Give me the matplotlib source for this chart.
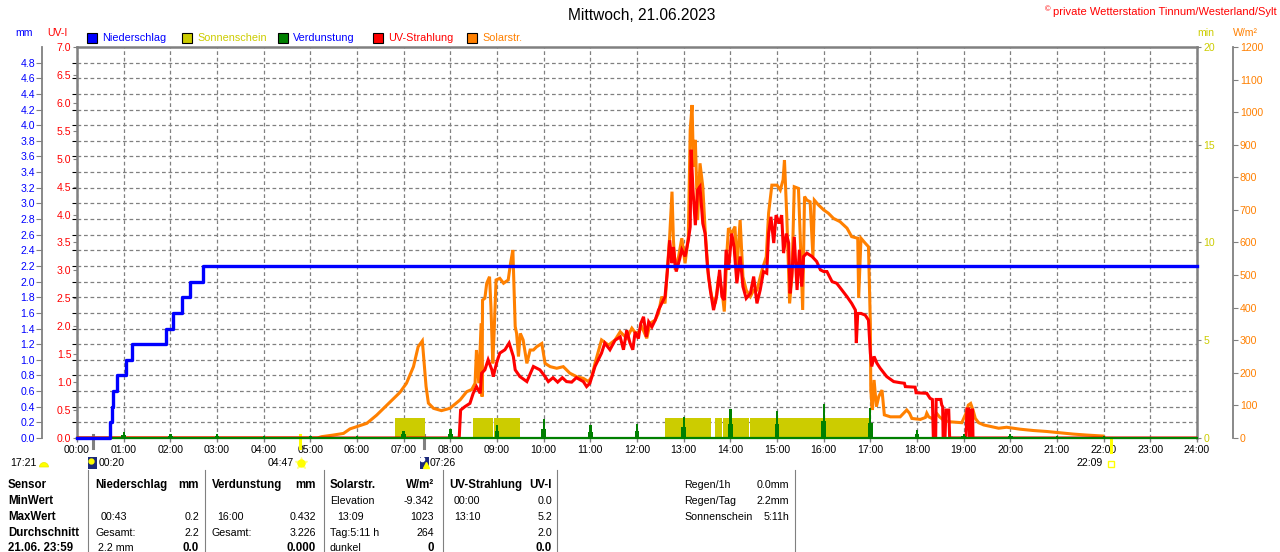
import matplotlib
matplotlib.use('Agg')
import matplotlib.pyplot as plt
import numpy as np
from matplotlib.lines import Line2D
from matplotlib.patches import Rectangle, Wedge

plt.rcParams['font.family'] = ['Liberation Sans', 'DejaVu Sans']

# ---------------- data ----------------
hour_ticks = list(range(25))
hour_labels = [f"{h:02d}:00" for h in hour_ticks]

# cumulative precipitation (mm)
rain_t = [0, 0.71, 0.74, 0.78, 0.86, 1.06, 1.18, 1.90, 2.06, 2.24, 2.42, 2.69, 24]
rain_mm = [0, 0.2, 0.4, 0.6, 0.8, 1.0, 1.2, 1.4, 1.6, 1.8, 2.0, 2.2, 2.2]

# hourly evaporation (mm)
evap_h = [1, 2, 3, 4, 5, 6, 7, 8, 9, 10, 11, 12, 13, 14, 15, 16, 17, 18, 19, 20, 21, 22]
evap_mm = [0.08, 0.05, 0.05, 0.03, 0.03, 0.02, 0.09, 0.11, 0.17, 0.24, 0.16, 0.18, 0.27,
           0.37, 0.35, 0.43, 0.38, 0.10, 0.05, 0.05, 0.03, 0.02]

# sunshine intervals (hours), value = minutes of sunshine per minute
sun_start = [6.82, 8.49, 8.93, 12.60, 13.68, 13.85, 14.43]
sun_end = [7.46, 8.91, 9.49, 13.59, 13.82, 14.40, 16.99]
sun_value = 1.0

# solar radiation (W/m2)
solar_t = [0, 5.15, 5.24, 5.49, 5.71, 5.85, 6.0, 6.21, 6.42, 6.64, 6.92, 7.06, 7.21, 7.31, 7.40,
           7.44, 7.48, 7.53, 7.64, 7.81, 7.99, 8.21, 8.35, 8.46, 8.53, 8.56, 8.61, 8.66, 8.68,
           8.69, 8.74, 8.78, 8.84, 8.87, 8.91, 8.94, 8.98, 9.06, 9.14, 9.24, 9.29, 9.34, 9.36,
           9.39, 9.42, 9.46, 9.50, 9.56, 9.64, 9.71, 9.78, 9.85, 9.96, 10.03, 10.14, 10.28,
           10.42, 10.56, 10.71, 10.85, 10.96, 11.03, 11.10, 11.24, 11.39, 11.53,
           11.64, 11.78, 11.89, 12.0, 12.10, 12.21, 12.28, 12.39, 12.46, 12.53, 12.60, 12.64,
           12.70, 12.75, 12.78, 12.82, 12.89, 12.96, 13.03, 13.10, 13.14, 13.18, 13.21, 13.25,
           13.30, 13.35, 13.41, 13.46, 13.53, 13.60, 13.68, 13.75, 13.82, 13.87, 13.93, 13.96,
           14.03, 14.10, 14.14, 14.21, 14.27, 14.34, 14.43, 14.50, 14.57, 14.68, 14.77, 14.82,
           14.89, 15.0, 15.07, 15.13, 15.16, 15.21, 15.27, 15.32, 15.37, 15.46, 15.50, 15.55,
           15.59, 15.64, 15.71, 15.77, 15.80, 15.89, 16.0, 16.10, 16.21, 16.35, 16.50, 16.60,
           16.73, 16.75, 16.80, 16.89, 16.96, 17.0, 17.01, 17.04, 17.08, 17.13, 17.18, 17.25,
           17.30, 17.43, 17.64, 17.78, 17.84, 17.89, 18.07, 18.18, 18.21, 18.25, 18.32, 18.43,
           18.48, 18.57, 18.68, 18.96, 19.05, 19.10, 19.15, 19.20, 19.25, 19.32, 19.43, 19.75,
           19.92, 20.21, 20.49, 20.78, 21.06, 21.35, 21.64, 21.99, 22.02]
solar_w = [0, 0, 4, 9, 14, 28, 35, 45, 70, 101, 140, 168, 219, 280, 298,
           229, 158, 107, 91, 84, 91, 117, 142, 149, 168, 270, 168, 352, 127,
           423, 429, 475, 495, 403, 229, 331, 485, 490, 475, 485, 536, 577, 485,
           342, 321, 250, 321, 301, 229, 270, 270, 280, 290, 229, 219, 214,
           219, 199, 188, 183, 173, 188, 229, 301, 285, 301,
           326, 306, 337, 316, 342, 306, 352, 362, 383, 434, 413, 495,
           618, 756, 608, 516, 556, 613, 536, 618, 945, 1022, 833, 915,
           669, 843, 771, 638, 495, 434, 413, 495, 454, 388, 577, 644,
           628, 649, 516, 669, 495, 454, 434, 454, 454, 516, 556, 690,
           776, 776, 761, 792, 853, 679, 413, 495, 771, 766, 608, 393,
           741, 730, 725, 556, 730, 715, 700, 690, 674, 664, 644, 618,
           613, 430, 613, 598, 587, 352, 147, 86, 178, 96, 127, 147,
           71, 65, 65, 86, 76, 60, 57, 63, 76, 65, 60, 74,
           65, 55, 50, 47, 76, 101, 106, 86, 60, 47, 40, 30,
           33, 27, 23, 20, 16, 12, 9, 6, 0]

# UV index
uv_t = [0, 8.19, 8.22, 8.31, 8.42, 8.49, 8.56, 8.64, 8.67, 8.74, 8.81, 8.89, 8.92, 8.99, 9.06,
        9.17, 9.26, 9.35, 9.39, 9.49, 9.64, 9.78, 9.92, 10.03, 10.10, 10.2, 10.3, 10.4, 10.49,
        10.6, 10.7, 10.85, 10.92, 10.99, 11.10, 11.24, 11.31, 11.42, 11.53,
        11.64, 11.71, 11.78, 11.85, 11.91, 11.96, 12.03, 12.08, 12.14, 12.20, 12.25, 12.32,
        12.39, 12.46, 12.53, 12.60, 12.65, 12.70, 12.75, 12.78, 12.84, 12.91, 12.96, 13.03,
        13.10, 13.14, 13.16, 13.20, 13.25, 13.30, 13.35, 13.41, 13.46, 13.51, 13.57, 13.64,
        13.71, 13.77, 13.82, 13.87, 13.91, 13.96, 14.03, 14.08, 14.14, 14.21, 14.27, 14.34,
        14.43, 14.50, 14.57, 14.64, 14.71, 14.78, 14.82, 14.87, 14.93, 14.98, 15.05, 15.10,
        15.14, 15.20, 15.25, 15.28, 15.32, 15.37, 15.43, 15.48, 15.53, 15.57, 15.64, 15.75,
        15.85, 15.93, 16.0, 16.07, 16.18, 16.28, 16.39, 16.50, 16.60, 16.68, 16.70, 16.73,
        16.80, 16.89, 16.96, 17.0, 17.03, 17.08, 17.14, 17.21, 17.35, 17.50, 17.64, 17.73,
        17.75, 17.96, 17.98, 18.21, 18.28, 18.33, 18.35, 18.40, 18.41, 18.51, 18.53, 18.55,
        18.56, 18.60, 18.62, 18.68, 18.70, 19.05, 19.07, 19.10, 19.13, 19.15, 19.19, 19.20, 24]
uv_v = [0, 0, 0.50, 0.56, 0.62, 0.80, 0.92, 0.80, 1.16, 1.22, 1.40, 1.22, 1.10, 1.34, 1.52,
        1.58, 1.70, 1.46, 1.22, 1.10, 1.01, 1.28, 1.22, 1.10, 1.01, 1.08, 1.00, 1.08, 1.01,
        1.00, 1.08, 1.01, 0.92, 0.98, 1.28, 1.52, 1.70, 1.58, 1.75,
        1.81, 1.58, 1.93, 1.70, 1.58, 1.90, 1.78, 2.05, 2.17, 1.81, 2.08, 1.99,
        2.11, 2.29, 2.41, 2.53, 2.98, 3.54, 3.13, 3.42, 2.98, 3.19, 3.37, 3.25,
        3.54, 3.78, 5.16, 4.44, 3.81, 4.44, 4.50, 3.84, 3.66, 3.07, 2.65, 2.29,
        2.56, 3.01, 2.53, 2.47, 3.37, 3.01, 3.66, 3.42, 2.77, 3.25, 2.71, 2.50,
        2.59, 2.89, 2.41, 2.65, 2.98, 2.95, 3.66, 3.96, 3.49, 3.99, 3.84, 3.99,
        3.31, 3.66, 3.49, 2.59, 2.95, 3.60, 2.65, 3.37, 2.71, 3.25, 3.31, 3.25,
        3.16, 3.01, 2.98, 2.98, 2.80, 2.77, 2.65, 2.53, 2.41, 2.29, 1.70, 2.23,
        2.23, 2.20, 2.11, 1.52, 1.28, 1.46, 1.34, 1.25, 1.10, 1.01, 0.99, 0.98,
        0.92, 0.91, 0.81, 0.80, 0.71, 0.69, 0.0, 0.0, 0.69, 0.69, 0.59, 0.56,
        0.0, 0.0, 0.50, 0.50, 0.0, 0.0, 0.52, 0.52, 0.0, 0.50, 0.50, 0.0, 0]

# ---------------- style ----------------
BLUE = '#0000FF'
RED = '#FF0000'
ORANGE = '#FF8000'
GREEN = '#008000'
YEL = '#CCCC00'
GRAY = '#808080'

W, H = 1280, 552
L, R, T, B = 77, 1197, 47, 438
fig = plt.figure(figsize=(12.8, 5.52), dpi=100)
fig.patch.set_facecolor('white')


def fx(x):
    return x / W


def fy(y):
    return 1 - y / H


ax = fig.add_axes([fx(L), fy(B), (R - L) / W, (B - T) / H])
ax.set_xlim(0, 24)
ax.set_ylim(0, 5)
ax.set_xticks(hour_ticks)
ax.set_xticklabels(hour_labels)
ax.set_yticks(np.arange(0.2, 4.9, 0.2))
ax.tick_params(axis='y', left=False, labelleft=False)
ax.tick_params(axis='x', length=3, width=1, color=GRAY, labelsize=7.6, pad=2, labelcolor='black')
ax.grid(True, color=GRAY, linestyle=(0, (3, 2.2)), linewidth=0.9)
for s in ['left', 'top', 'right']:
    ax.spines[s].set_color(GRAY)
    ax.spines[s].set_linewidth(1.8)
ax.spines['bottom'].set_color(GRAY)
ax.spines['bottom'].set_linewidth(0.8)


def make_twin(ylim):
    t = ax.twinx()
    t.set_ylim(*ylim)
    t.set_xlim(0, 24)
    for s in t.spines.values():
        s.set_visible(False)
    t.tick_params(axis='y', left=False, right=False, labelleft=False, labelright=False)
    return t


# sunshine (min)
ax_sun = make_twin((0, 20))
ax_sun.yaxis.set_ticks_position('right')
ax_sun.set_yticks([0, 5, 10, 15, 20])
ax_sun.tick_params(axis='y', right=True, labelright=True, length=3, color=GRAY,
                   labelcolor=YEL, labelsize=7.6, pad=1.5)
for s, e in zip(sun_start, sun_end):
    ax_sun.fill_between([s, e], 0, sun_value, color=YEL, linewidth=0, zorder=1)

# solar radiation
ax_sol = make_twin((0, 1200))
ax_sol.spines['right'].set_visible(True)
ax_sol.spines['right'].set_position(('axes', (1233 - L) / (R - L)))
ax_sol.spines['right'].set_color(GRAY)
ax_sol.spines['right'].set_linewidth(1.3)
ax_sol.yaxis.set_ticks_position('right')
ax_sol.set_yticks(np.arange(0, 1201, 100))
ax_sol.tick_params(axis='y', right=True, labelright=True, length=3.5, color=GRAY,
                   labelcolor=ORANGE, labelsize=7.6, pad=1.5)
ax_sol.plot(solar_t, solar_w, color=ORANGE, linewidth=2.2, solid_joinstyle='miter')

# UV index
ax_uv = make_twin((0, 7))
ax_uv.yaxis.set_ticks_position('left')
ax_uv.set_yticks(np.arange(0, 7.01, 0.5))
ax_uv.set_yticklabels([f"{v:.1f}" for v in np.arange(0, 7.01, 0.5)])
ax_uv.tick_params(axis='y', left=True, labelleft=True, length=3, color=GRAY,
                  labelcolor=RED, labelsize=7.6, pad=1)
ax_uv.plot(uv_t, uv_v, color=RED, linewidth=2.2, solid_joinstyle='miter')

# evaporation (mm)
ax_ev = make_twin((0, 5))
for h, v in zip(evap_h, evap_mm):
    xs = [h - 0.05, h - 0.05, h - 0.025, h - 0.025, h + 0.025, h + 0.025, h + 0.05, h + 0.05]
    ys = [0, v * 0.5, v * 0.5, v, v, v * 0.5, v * 0.5, 0]
    ax_ev.fill(xs, ys, color=GREEN, linewidth=0)
ax_ev.plot([0, 24], [0, 0], color=GREEN, linewidth=1.6, clip_on=False)

# precipitation (mm)
ax_mm = make_twin((0, 5))
ax_mm.spines['left'].set_visible(True)
ax_mm.spines['left'].set_position(('axes', (42 - L) / (R - L)))
ax_mm.spines['left'].set_color(GRAY)
ax_mm.spines['left'].set_linewidth(1.3)
ax_mm.yaxis.set_ticks_position('left')
mm_ticks = np.arange(0, 4.81, 0.2)
ax_mm.set_yticks(mm_ticks)
ax_mm.set_yticklabels([f"{v:.1f}" for v in mm_ticks])
ax_mm.tick_params(axis='y', left=True, labelleft=True, length=4, color=GRAY,
                  labelcolor=BLUE, labelsize=7.6, pad=1)
ax_mm.plot(rain_t, rain_mm, color=BLUE, linewidth=2.4, drawstyle='steps-post', clip_on=False)

# markers at sunrise / sunset / moon times
xt = ax.get_xaxis_transform()
ax.plot([0.333, 0.333], [0.008, -0.025], transform=xt, color=GRAY, linewidth=2.2, clip_on=False)
ax.plot([7.433, 7.433], [0.008, -0.025], transform=xt, color=GRAY, linewidth=2.2, clip_on=False)
ax.plot([4.783, 4.783], [0.008, -0.025], transform=xt, color='#FFFF00', linewidth=2.2, clip_on=False)
ax.plot([22.15, 22.15], [0.0, -0.035], transform=xt, color='#FFFF00', linewidth=2.2, clip_on=False)

# ---------------- texts ----------------
fig.text(fx(642), fy(15), 'Mittwoch, 21.06.2023', ha='center', va='center', fontsize=11.2, color='black')
cr = fig.text(fx(1277), fy(12), 'private Wetterstation Tinnum/Westerland/Sylt', ha='right', va='center',
              fontsize=8.0, color=RED)
fig.texts[-1]
ann = fig.add_artist(matplotlib.text.Annotation('©', xy=(0, 0.75), xycoords=cr, xytext=(-3, 0),
                                                textcoords='offset pixels', ha='right', va='center',
                                                fontsize=5.5, color=RED))

fig.text(fx(15), fy(33), 'mm', ha='left', va='center', fontsize=7.6, color=BLUE)
fig.text(fx(47), fy(33), 'UV-I', ha='left', va='center', fontsize=7.6, color=RED)
fig.text(fx(1197), fy(33), 'min', ha='left', va='center', fontsize=7.6, color=YEL)
fig.text(fx(1233), fy(33), 'W/m²', ha='left', va='center', fontsize=7.6, color=ORANGE)

legend_items = [('Niederschlag', BLUE, BLUE, 87), ('Sonnenschein', YEL, YEL, 182),
                ('Verdunstung', GREEN, BLUE, 278), ('UV-Strahlung', RED, RED, 373),
                ('Solarstr.', ORANGE, ORANGE, 467)]
for name, fc, tc, x in legend_items:
    fig.add_artist(Rectangle((fx(x), fy(43)), 10 / W, 10 / H, transform=fig.transFigure,
                             facecolor=fc, edgecolor='black', linewidth=0.8))
    fig.text(fx(x + 15), fy(38), name, ha='left', va='center', fontsize=7.8, color=tc)

# sun / moon info row
iy = 463
fig.text(fx(10), fy(iy), '17:21', ha='left', va='center', fontsize=7.6)
fig.add_artist(Wedge((44 / 100, (H - 467) / 100), 0.045, 0, 180, transform=fig.dpi_scale_trans,
                     facecolor='#FFFF00', edgecolor='#E8E800', linewidth=0.5))
fig.add_artist(Rectangle((fx(88), fy(469)), 9 / W, 12 / H, transform=fig.transFigure,
                         facecolor='#1C2A7A', edgecolor='none'))
fig.add_artist(Line2D([fx(91)], [fy(461)], marker='o', markersize=3.5, color='#FFFF00',
                      transform=fig.transFigure))
fig.text(fx(99), fy(iy), '00:20', ha='left', va='center', fontsize=7.6)
fig.text(fx(294), fy(iy), '04:47', ha='right', va='center', fontsize=7.6)
fig.add_artist(Line2D([fx(301)], [fy(iy)], marker='*', markersize=9, color='#FFFF80',
                      transform=fig.transFigure))
fig.add_artist(Line2D([fx(301)], [fy(iy)], marker='o', markersize=5, color='#FFFF00',
                      transform=fig.transFigure))
fig.add_artist(Rectangle((fx(420), fy(469)), 9 / W, 12 / H, transform=fig.transFigure,
                         facecolor='#1C2A7A', edgecolor='none'))
fig.add_artist(Line2D([fx(422)], [fy(459)], marker='o', markersize=3, color='white',
                      transform=fig.transFigure))
fig.add_artist(Line2D([fx(426)], [fy(465)], marker='^', markersize=4, color='#FFFF00',
                      transform=fig.transFigure))
fig.text(fx(430), fy(iy), '07:26', ha='left', va='center', fontsize=7.6)
fig.text(fx(1103), fy(iy), '22:09', ha='right', va='center', fontsize=7.6)
fig.add_artist(Rectangle((fx(1108), fy(467)), 6 / W, 6 / H, transform=fig.transFigure,
                         facecolor='none', edgecolor='#FFFF00', linewidth=1))

# table separators
for x in [88, 205, 324, 443, 557, 795]:
    fig.add_artist(Line2D([fx(x), fx(x)], [fy(470), fy(552)], color=GRAY, linewidth=0.8,
                          transform=fig.transFigure))

rows_y = [485, 501, 517, 533, 548]
row_heads = ['Sensor', 'MinWert', 'MaxWert', 'Durchschnitt', '21.06. 23:59']
for y, t in zip(rows_y, row_heads):
    fig.text(fx(8), fy(y), t, ha='left', va='center', fontsize=8.3, fontweight='bold')

cells = [
    # (x, row, text, align, bold)
    (95, 0, 'Niederschlag', 'left', True), (199, 0, 'mm', 'right', True),
    (212, 0, 'Verdunstung', 'left', True), (316, 0, 'mm', 'right', True),
    (330, 0, 'Solarstr.', 'left', True), (434, 0, 'W/m²', 'right', True),
    (449, 0, 'UV-Strahlung', 'left', True), (552, 0, 'UV-I', 'right', True),
    (330, 1, 'Elevation', 'left', False), (434, 1, '-9.342', 'right', False),
    (454, 1, '00:00', 'left', False), (552, 1, '0.0', 'right', False),
    (101, 2, '00:43', 'left', False), (199, 2, '0.2', 'right', False),
    (217, 2, '16:00', 'left', False), (316, 2, '0.432', 'right', False),
    (337, 2, '13:09', 'left', False), (434, 2, '1023', 'right', False),
    (454, 2, '13:10', 'left', False), (552, 2, '5.2', 'right', False),
    (95, 3, 'Gesamt:', 'left', False), (199, 3, '2.2', 'right', False),
    (212, 3, 'Gesamt:', 'left', False), (316, 3, '3.226', 'right', False),
    (330, 3, 'Tag:5:11 h', 'left', False), (434, 3, '264', 'right', False),
    (552, 3, '2.0', 'right', False),
    (98, 4, '2.2 mm', 'left', False), (199, 4, '0.0', 'right', True),
    (316, 4, '0.000', 'right', True),
    (330, 4, 'dunkel', 'left', False), (434, 4, '0', 'right', True),
    (552, 4, '0.0', 'right', True),
    (684, 0, 'Regen/1h', 'left', False), (789, 0, '0.0mm', 'right', False),
    (684, 1, 'Regen/Tag', 'left', False), (789, 1, '2.2mm', 'right', False),
    (684, 2, 'Sonnenschein', 'left', False), (789, 2, '5:11h', 'right', False),
]
for x, r, t, al, bold in cells:
    fig.text(fx(x), fy(rows_y[r]), t, ha=al, va='center',
             fontsize=8.3 if bold else 7.7, fontweight='bold' if bold else 'normal')

fig.savefig('out.png', dpi=100, facecolor='white')
